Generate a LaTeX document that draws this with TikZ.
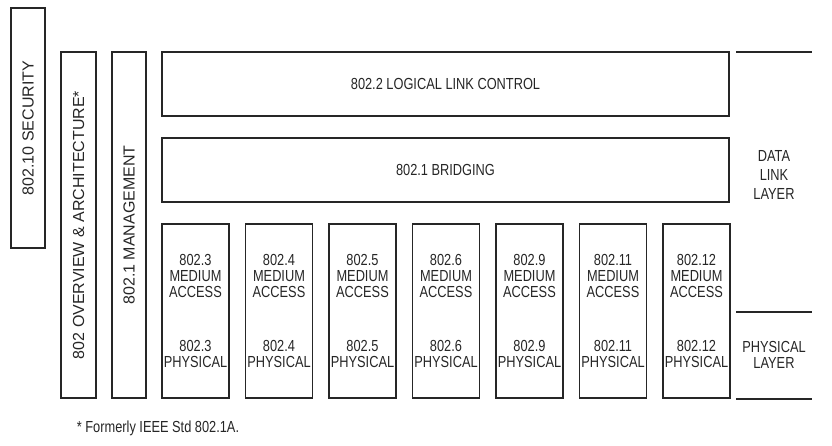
\documentclass[tikz,border=0pt]{standalone}
\usepackage{fontspec}
\setmainfont{Liberation Sans}
\newfontfamily\narrowsans[FakeStretch=0.8]{Liberation Sans}
\usetikzlibrary{positioning}

\tikzset{
  stdbox/.style={draw=black!85, line width=1.2pt, rectangle, inner sep=0pt},
  boxtext/.style={font=\narrowsans\fontsize{16}{16}\selectfont, text=black!85,
    align=center, inner sep=0pt},
  sidetext/.style={font=\fontsize{16}{16}\selectfont, text=black!85, rotate=90},
  layerline/.style={draw=black!85, line width=1.2pt},
}

\begin{document}
\begin{tikzpicture}[x=1pt, y=-1pt]
  \useasboundingbox (0,0) rectangle (832,446);

  % vertical boxes on the left
  \node[stdbox, sidetext, minimum width=240, minimum height=34] (sec) at (28,128) {802.10 SECURITY};
  \node[stdbox, sidetext, minimum width=346, minimum height=35] (ovw) at (78.5,225) {802 OVERVIEW \& ARCHITECTURE*};
  \node[stdbox, sidetext, minimum width=346, minimum height=34] (mgmt) at (129,225) {802.1 MANAGEMENT};

  % wide boxes
  \node[stdbox, boxtext, minimum width=567, minimum height=64] (llc) at (445.5,84) {802.2 LOGICAL LINK CONTROL};
  \node[stdbox, boxtext, minimum width=567, minimum height=64] (brg) at (445.5,170) {802.1 BRIDGING};

  % medium access / physical boxes
  \foreach \n/\i in {3/0,4/1,5/2,6/3,9/4,11/5,12/6} {
    \node[stdbox, minimum width=67, minimum height=174] (box\n) at (195.5+83.5*\i,311) {};
    \node[boxtext] (mac\n) at (195.5+83.5*\i,276) {802.\n\\MEDIUM\\ACCESS};
    \node[boxtext] (phy\n) at (195.5+83.5*\i,354) {802.\n\\PHYSICAL};
  }

  % layer marks on the right
  \coordinate (dlTop) at (736,52);
  \coordinate (dlBot) at (736,312);
  \coordinate (phBot) at (736,399);
  \draw[layerline] (dlTop) -- ++(76,0);
  \draw[layerline] (dlBot) -- ++(76,0);
  \draw[layerline] (phBot) -- ++(76,0);
  \node[boxtext, font=\narrowsans\fontsize{16}{19}\selectfont] (dll) at (774,175) {DATA\\LINK\\LAYER};
  \node[boxtext] (phl) at (774,355) {PHYSICAL\\LAYER};

  % footnote
  \node[boxtext] (note) at (158,428) {* Formerly IEEE Std 802.1A.};
\end{tikzpicture}
\end{document}
